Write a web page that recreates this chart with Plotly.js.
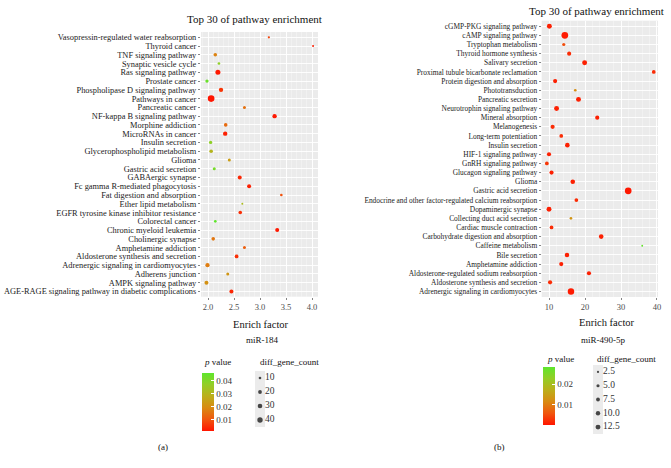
<!DOCTYPE html>
<html>
<head>
<meta charset="utf-8">
<script src="https://cdn.plot.ly/plotly-3.0.1.min.js"></script>
<style>html,body{margin:0;padding:0;background:#fff;}</style>
</head>
<body>
<div id="chart" style="width:671px;height:468px;"></div>
<script>
// panel (a) miR-184, listed top to bottom
var leftPathways = ['Vasopressin-regulated water reabsorption','Thyroid cancer','TNF signaling pathway','Synaptic vesicle cycle','Ras signaling pathway','Prostate cancer','Phospholipase D signaling pathway','Pathways in cancer','Pancreatic cancer','NF-kappa B signaling pathway','Morphine addiction','MicroRNAs in cancer','Insulin secretion','Glycerophospholipid metabolism','Glioma','Gastric acid secretion','GABAergic synapse','Fc gamma R-mediated phagocytosis','Fat digestion and absorption','Ether lipid metabolism','EGFR tyrosine kinase inhibitor resistance','Colorectal cancer','Chronic myeloid leukemia','Cholinergic synapse','Amphetamine addiction','Aldosterone synthesis and secretion','Adrenergic signaling in cardiomyocytes','Adherens junction','AMPK signaling pathway','AGE-RAGE signaling pathway in diabetic complications'];
var leftEnrich = [3.17,4.02,2.14,2.21,2.19,1.98,2.25,2.06,2.70,3.28,2.34,2.33,2.05,2.06,2.41,2.12,2.61,2.79,3.41,2.66,2.62,2.14,3.33,2.10,2.70,2.55,1.99,2.38,1.97,2.45];
var leftPvalue = [0.008,0.003,0.018,0.038,0.002,0.044,0.006,0.0015,0.015,0.002,0.014,0.003,0.038,0.030,0.024,0.042,0.004,0.003,0.010,0.032,0.005,0.046,0.002,0.016,0.012,0.005,0.017,0.022,0.021,0.004];
var leftCount = [5,4,13,7,25,11,19,44,9,19,13,19,11,13,9,9,16,16,7,4,13,7,16,13,9,14,18,9,16,16];

// panel (b) miR-490-5p
var rightPathways = ['cGMP-PKG signaling pathway','cAMP signaling pathway','Tryptophan metabolism','Thyroid hormone synthesis','Salivary secretion','Proximal tubule bicarbonate reclamation','Protein digestion and absorption','Phototransduction','Pancreatic secretion','Neurotrophin signaling pathway','Mineral absorption','Melanogenesis','Long-term potentiation','Insulin secretion','HIF-1 signaling pathway','GnRH signaling pathway','Glucagon signaling pathway','Glioma','Gastric acid secretion','Endocrine and other factor-regulated calcium reabsorption','Dopaminergic synapse','Collecting duct acid secretion','Cardiac muscle contraction','Carbohydrate digestion and absorption','Caffeine metabolism','Bile secretion','Amphetamine addiction','Aldosterone-regulated sodium reabsorption','Aldosterone synthesis and secretion','Adrenergic signaling in cardiomyocytes'];
var rightEnrich = [10.1,14.4,14.1,15.6,19.9,39.1,11.7,17.3,18.2,12.1,23.4,11.0,13.4,15.1,10.0,9.4,10.7,16.6,32.0,17.6,10.0,16.1,10.7,24.5,35.9,15.0,13.4,21.1,10.3,16.1];
var rightPvalue = [0.001,0.0005,0.005,0.002,0.001,0.002,0.001,0.012,0.001,0.001,0.001,0.002,0.002,0.001,0.001,0.003,0.001,0.001,0.0003,0.002,0.001,0.013,0.002,0.001,0.028,0.001,0.001,0.001,0.002,0.0005];
var rightCount = [7,13,3,5,7,4,5,2,7,7,5,5,4,6,5,4,5,6,13,4,7,2,4,6,1,6,5,5,5,12];

var leftSizeBreaks = [10,20,30,40];
var rightSizeBreaks = [2.5,5.0,7.5,10.0,12.5];
var leftPTicks = [0.01,0.02,0.03,0.04];
var rightPTicks = [0.01,0.02];

var W = 671, H = 468;
var serif = 'Liberation Serif, Times New Roman, serif';
var pScale = [[0,'#ff1500'],[0.2,'#f0560e'],[0.4,'#d98a12'],[0.6,'#bcae1a'],[0.8,'#94cd26'],[1,'#5ee62c']];

function px(x){ return x / W; }
function py(y){ return 1 - y / H; }

function colorbar(ticks, left, top, bottom){
  return {
    x: px(left), xanchor: 'left', xref: 'paper',
    y: py((top + bottom) / 2), yanchor: 'middle', yref: 'paper',
    len: bottom - top, lenmode: 'pixels',
    thickness: 12, thicknessmode: 'pixels',
    xpad: 0, ypad: 0, outlinewidth: 0,
    tickvals: ticks, ticktext: ticks.map(function(t){ return t.toFixed(2); }),
    ticks: 'inside', ticklen: 3, tickcolor: '#ffffff', tickwidth: 1,
    tickfont: {family: serif, size: 9, color: '#333'},
    title: {text: ''}
  };
}

var leftTrace = {
  type: 'scatter', mode: 'markers',
  x: leftEnrich, y: leftPathways, xaxis: 'x', yaxis: 'y',
  marker: {
    size: leftCount.map(function(c){ return Math.sqrt(c); }),
    color: leftPvalue, colorscale: pScale, cmin: 0.0015, cmax: 0.046,
    line: {width: 0}, opacity: 1,
    colorbar: colorbar(leftPTicks, 202, 373, 431)
  },
  hoverinfo: 'x+y', showlegend: false
};

var rightTrace = {
  type: 'scatter', mode: 'markers',
  x: rightEnrich, y: rightPathways, xaxis: 'x2', yaxis: 'y2',
  marker: {
    size: rightCount.map(function(c){ return 1.86 * Math.sqrt(c); }),
    color: rightPvalue, colorscale: pScale, cmin: 0, cmax: 0.0285,
    line: {width: 0}, opacity: 1,
    colorbar: colorbar(rightPTicks, 543, 367, 425)
  },
  hoverinfo: 'x+y', showlegend: false
};

// size legends: dots and their labels
function sizeKeys(breaks, k, ax, ay, labelFmt){
  var idx = breaks.map(function(b, i){ return i; });
  return [{
    type: 'scatter', mode: 'markers',
    x: breaks.map(function(){ return 0; }), y: idx,
    xaxis: ax, yaxis: ay, cliponaxis: false,
    marker: {color: '#000', size: breaks.map(function(b){ return k * Math.sqrt(b); }), line: {width: 0}},
    hoverinfo: 'skip', showlegend: false
  }, {
    type: 'scatter', mode: 'text',
    x: breaks.map(function(){ return 1; }), y: idx,
    text: breaks.map(labelFmt), textposition: 'middle right',
    textfont: {family: serif, size: 9.5, color: '#333'},
    xaxis: ax, yaxis: ay, cliponaxis: false,
    hoverinfo: 'skip', showlegend: false
  }];
}
var leftKeys = sizeKeys(leftSizeBreaks, 0.85, 'x3', 'y3', function(b){ return String(b); });
var rightKeys = sizeKeys(rightSizeBreaks, 1.4, 'x4', 'y4', function(b){ return b.toFixed(1); });

function xAxis(domain, range, ticks, fmt, anchor){
  return {
    domain: domain, range: range, anchor: anchor,
    tickmode: 'array', tickvals: ticks, ticktext: ticks.map(function(t){ return t.toFixed(fmt); }),
    ticks: 'outside', ticklen: 2, tickwidth: 0.6, tickcolor: '#333',
    tickfont: {family: serif, size: 8.5, color: '#4d4d4d'},
    showgrid: true, gridcolor: '#ffffff', gridwidth: 0.9,
    minor: {showgrid: true, gridcolor: '#f7f7f7', gridwidth: 0.5},
    zeroline: false, showline: false, fixedrange: true
  };
}
function yAxis(domain, cats, anchor, fontSize){
  return {
    domain: domain, anchor: anchor, type: 'category',
    categoryorder: 'array', categoryarray: cats.slice().reverse(),
    tickmode: 'array', tickvals: cats, ticktext: cats,
    range: [-0.6, cats.length - 0.4],
    ticks: 'outside', ticklen: 2, tickwidth: 0.6, tickcolor: '#333',
    tickfont: {family: serif, size: fontSize, color: '#222'},
    showgrid: true, gridcolor: '#ffffff', gridwidth: 0.9,
    zeroline: false, showline: false, fixedrange: true
  };
}
function keyAxes(left, right, anchor){
  return {domain: [px(left), px(right)], range: [-1, 1], anchor: anchor, visible: false, fixedrange: true};
}

function ann(text, x, y, size, anchor){
  return {text: text, x: px(x), y: py(y), xref: 'paper', yref: 'paper',
    xanchor: anchor || 'center', yanchor: 'middle', showarrow: false,
    font: {family: serif, size: size, color: '#111'}};
}

var layout = {
  width: W, height: H,
  margin: {l: 0, r: 0, t: 0, b: 0},
  paper_bgcolor: '#ffffff', plot_bgcolor: '#ebebeb',
  xaxis: xAxis([px(201), px(318)], [1.865, 4.115], [2.0,2.5,3.0,3.5,4.0], 1, 'y'),
  yaxis: yAxis([py(296.7), py(32)], leftPathways, 'x', 8.4),
  xaxis2: xAxis([px(541.7), px(658)], [7.97, 40.28], [10,20,30,40], 0, 'y2'),
  yaxis2: yAxis([py(297), py(20.7)], rightPathways, 'x2', 7.4),
  xaxis3: keyAxes(255, 265, 'y3'),
  yaxis3: {domain: [py(427), py(371)], range: [3.5, -0.5], anchor: 'x3', visible: false, fixedrange: true},
  xaxis4: keyAxes(593, 603, 'y4'),
  yaxis4: {domain: [py(434), py(365)], range: [4.5, -0.5], anchor: 'x4', visible: false, fixedrange: true},
  annotations: [
    ann('Top 30 of pathway enrichment', 254.5, 19, 11),
    ann('Top 30 of pathway enrichment', 596, 11, 11),
    ann('Enrich factor', 261, 324, 10.5),
    ann('Enrich factor', 607, 322, 10.5),
    ann('miR-184', 262, 340, 9),
    ann('miR-490-5p', 603, 340, 9),
    ann('<i>p</i> value', 217, 362, 9),
    ann('<i>p</i> value', 560, 359, 9),
    ann('diff_gene_count', 289, 362, 9),
    ann('diff_gene_count', 626, 359, 9),
    ann('(a)', 163, 447, 9),
    ann('(b)', 499, 447, 9)
  ]
};

var data = [leftTrace, rightTrace].concat(leftKeys, rightKeys);
Plotly.newPlot('chart', data, layout, {displayModeBar: false, staticPlot: true});
</script>
</body>
</html>
